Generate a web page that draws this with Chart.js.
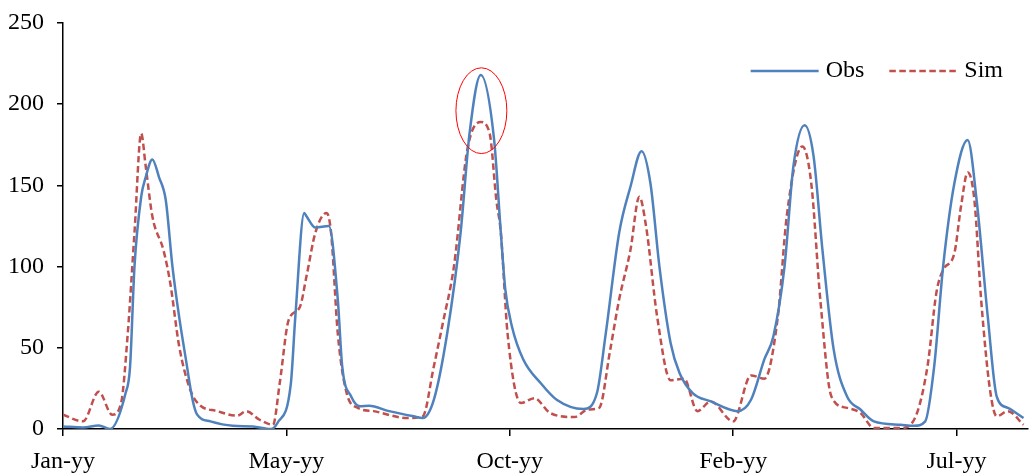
<!DOCTYPE html>
<html>
<head>
<meta charset="utf-8">
<script src="https://cdn.jsdelivr.net/npm/chart.js@4/dist/chart.umd.min.js"></script>
<style>
  html, body { margin: 0; padding: 0; background: #fff; }
  #wrap { width: 1029px; height: 475px; }
</style>
</head>
<body>
<div id="wrap"><canvas id="chart"></canvas></div>
<script>
// x runs in hundredths of a tick interval (tick every 100)
const tickLabels = ['Jan-yy', 'May-yy', 'Oct-yy', 'Feb-yy', 'Jul-yy'];

const obsX = [0, 9, 16, 21, 28, 30, 32, 35, 37, 40, 43, 46, 49, 52, 55, 58, 60, 66, 76, 85,
  93, 96, 102, 104, 108, 109, 113, 119, 123, 125, 129, 133, 137, 146, 157, 161, 166, 172, 178, 182,
  187, 193, 196, 198, 201, 206, 214, 221, 233, 239, 243, 249, 254, 259, 263, 267, 272, 276, 282, 290,
  302, 308, 314, 318, 323, 327, 332, 336, 340, 345, 351, 357, 363, 375, 381, 386, 390, 394, 399, 405,
  409, 414, 418, 423, 430];
const obsY = [1.6, 1, 2.2, 0, 22, 38, 100, 143, 155, 166, 155, 141, 100, 69, 43, 18, 9, 4.7, 2, 1.6,
  0, 3.7, 28, 69, 133, 131, 124, 125, 80, 38.5, 20, 14, 14.3, 11, 7.8, 6.8, 18, 59, 121, 182,
  218, 178, 121, 86, 63, 43, 28, 18, 12.3, 22, 59, 121, 149, 171, 151, 100, 53, 34.5, 22, 17,
  11, 18, 43, 57, 100, 162, 187, 168, 110, 49, 20, 12, 4.7, 2.6, 2, 4.7, 38.5, 100, 151, 178,
  141, 69, 20, 13, 6.8];

const simX = [0, 9, 16, 22, 26, 29, 32, 35, 37, 40, 45, 48, 52, 57, 61, 69, 78, 82, 88, 94,
  97, 101, 106, 109, 113, 118, 120, 123, 127, 132, 139, 154, 161, 166, 170, 175, 181, 187, 191, 194,
  196, 199, 205, 211, 218, 229, 235, 240, 245, 249, 254, 258, 261, 266, 272, 278, 284, 290, 300, 308,
  314, 320, 324, 331, 335, 339, 344, 351, 357, 363, 375, 381, 387, 391, 394, 399, 402, 405, 408, 411,
  415, 418, 423, 430];
const simY = [8.8, 4.7, 23, 8.8, 16, 59, 121, 182, 162, 131, 110, 90, 51, 24, 15, 11, 8.2, 11, 5.7, 2.6,
  28, 67, 75, 94, 121, 133, 121, 59, 22, 13, 11, 6.8, 7.8, 38.5, 65, 100, 172, 189, 182, 141,
  121, 59, 16, 19, 9.9, 7.4, 12, 13, 49, 80, 110, 143, 125, 69, 30, 31, 11, 17, 4.7, 33,
  31, 69, 131, 174, 151, 80, 20, 13, 9.9, 0.6, 0.6, 5.7, 38.5, 84, 98, 108, 137, 158, 141, 80,
  24, 7.8, 11, 2.6];

// red ellipse marking the largest peak (in data units)
const mark = { x: 187.3, y: 196, rx: 11.4, ry: 26.4 };

const fontFamily = '"Liberation Serif", "Times New Roman", serif';
const toPoints = (xs, ys) => xs.map((x, i) => ({ x, y: ys[i] }));

const peakMarker = {
  id: 'peakMarker',
  afterDatasetsDraw(chart) {
    const { ctx, scales: { x, y } } = chart;
    const cx = x.getPixelForValue(mark.x);
    const cy = y.getPixelForValue(mark.y);
    const rx = x.getPixelForValue(mark.x + mark.rx) - cx;
    const ry = cy - y.getPixelForValue(mark.y + mark.ry);
    ctx.save();
    ctx.strokeStyle = '#FF0000';
    ctx.lineWidth = 1;
    ctx.beginPath();
    ctx.ellipse(cx, cy, rx, ry, 0, 0, Math.PI * 2);
    ctx.stroke();
    ctx.restore();
  },
};

// line-sample legend in the top right of the plot, laid out right to left
const insideLegend = {
  id: 'insideLegend',
  afterDraw(chart) {
    const { ctx, chartArea } = chart;
    const sample = 68, gap = 7, between = 25;
    const y = chartArea.top + 48;
    ctx.save();
    ctx.font = '24px ' + fontFamily;
    ctx.textBaseline = 'middle';
    let right = chartArea.right - 25;
    chart.data.datasets.slice().reverse().forEach((ds) => {
      const w = ctx.measureText(ds.label).width;
      const textX = right - w;
      ctx.fillStyle = '#000';
      ctx.fillText(ds.label, textX, y);
      const lineEnd = textX - gap;
      ctx.strokeStyle = ds.borderColor;
      ctx.lineWidth = ds.borderWidth;
      ctx.setLineDash(ds.borderDash || []);
      ctx.beginPath();
      ctx.moveTo(lineEnd - sample, y);
      ctx.lineTo(lineEnd, y);
      ctx.stroke();
      right = lineEnd - sample - between;
    });
    ctx.restore();
  },
};

Chart.defaults.font.family = fontFamily;
Chart.defaults.font.size = 24;
Chart.defaults.color = '#000';

new Chart(document.getElementById('chart'), {
  type: 'line',
  data: {
    datasets: [
      {
        label: 'Obs',
        data: toPoints(obsX, obsY),
        borderColor: '#4F81BD',
        backgroundColor: '#4F81BD',
        borderWidth: 2.5,
      },
      {
        label: 'Sim',
        data: toPoints(simX, simY),
        borderColor: '#C0504D',
        backgroundColor: '#C0504D',
        borderWidth: 2.5,
        borderDash: [6.5, 3.5],
      },
    ],
  },
  plugins: [peakMarker, insideLegend],
  options: {
    responsive: true,
    maintainAspectRatio: false,
    animation: false,
    layout: { padding: { top: 23, right: 1, left: 0, bottom: 0 } },
    elements: {
      point: { radius: 0 },
      line: { cubicInterpolationMode: 'monotone' },
    },
    plugins: {
      tooltip: { enabled: false },
      legend: { display: false },
    },
    scales: {
      x: {
        type: 'linear',
        min: 0,
        max: 432,
        border: { color: '#000', width: 1.5 },
        grid: { drawOnChartArea: false, drawTicks: true, tickLength: 7, color: '#000', lineWidth: 1.5 },
        ticks: {
          stepSize: 100,
          includeBounds: false,
          padding: 11,
          maxRotation: 0,
          callback: (v) => tickLabels[v / 100] || '',
        },
        afterFit: (scale) => { scale.height = 46; },
      },
      y: {
        min: 0,
        max: 250,
        border: { color: '#000', width: 1.5 },
        grid: { drawOnChartArea: false, drawTicks: true, tickLength: 6, color: '#000', lineWidth: 1.5 },
        ticks: { stepSize: 50, padding: 13 },
        afterFit: (scale) => {
          scale.width = 63;
          scale.paddingTop = 8;
          scale.paddingBottom = 8;
        },
      },
    },
  },
});
</script>
</body>
</html>
